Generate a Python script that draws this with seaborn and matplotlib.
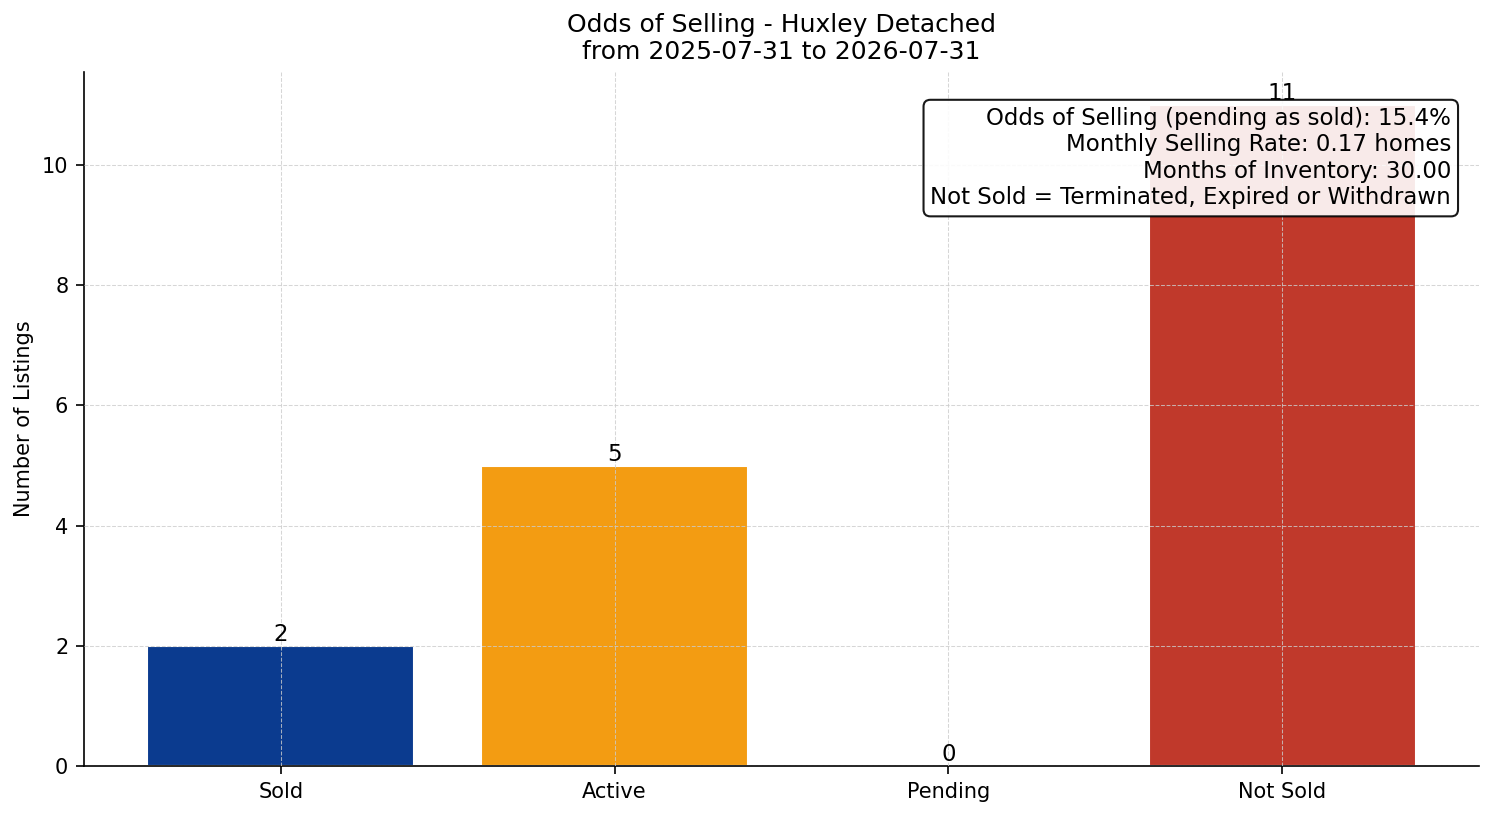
import matplotlib
matplotlib.use('Agg')
import matplotlib.pyplot as plt
import seaborn as sns
import pandas as pd

sns.set_style('whitegrid')
plt.rcParams['text.color'] = 'black'
plt.rcParams['axes.labelcolor'] = 'black'
plt.rcParams['xtick.color'] = 'black'
plt.rcParams['ytick.color'] = 'black'

statuses = ['Sold', 'Active', 'Pending', 'Not Sold']
counts = [2, 5, 0, 11]
colors = ['#0B3B8F', '#F39C12', '#2E86C1', '#C0392B']

odds_pct = 15.4
monthly_rate = 0.17
months_inventory = 30.00

df = pd.DataFrame({'Status': statuses, 'Count': counts})

fig, ax = plt.subplots(figsize=(9.96, 5.44), dpi=150)
sns.barplot(data=df, x='Status', y='Count', hue='Status', palette=colors,
            legend=False, width=0.8, saturation=1, ax=ax)

for container in ax.containers:
    ax.bar_label(container, fontsize=11, color='black')

# back to matplotlib's default x padding
ax.margins(x=0.05)
ax.autoscale(enable=True, axis='x')

ax.set_axisbelow(False)
ax.grid(True, linestyle='--', linewidth=0.5, color='#cccccc', alpha=0.8)
sns.despine(ax=ax)
for s in ['left', 'bottom']:
    ax.spines[s].set_color('black')

ax.set_title('Odds of Selling - Huxley Detached\nfrom 2025-07-31 to 2026-07-31',
             fontsize=12, color='black')
ax.set_xlabel('')
ax.set_ylabel('Number of Listings', fontsize=10)
ax.tick_params(axis='both', labelsize=10, length=4, left=True, bottom=True, color='black')

info = (f'Odds of Selling (pending as sold): {odds_pct:.1f}%\n'
        f'Monthly Selling Rate: {monthly_rate:.2f} homes\n'
        f'Months of Inventory: {months_inventory:.2f}\n'
        'Not Sold = Terminated, Expired or Withdrawn')
ax.text(0.98, 0.95, info, transform=ax.transAxes, ha='right', va='top', fontsize=11,
        color='black',
        bbox=dict(boxstyle='round,pad=0.3', facecolor='white', edgecolor='black', alpha=0.9))

fig.subplots_adjust(left=0.0562, right=0.990, top=0.9118, bottom=0.0613)
plt.savefig('out.png', dpi=150)
